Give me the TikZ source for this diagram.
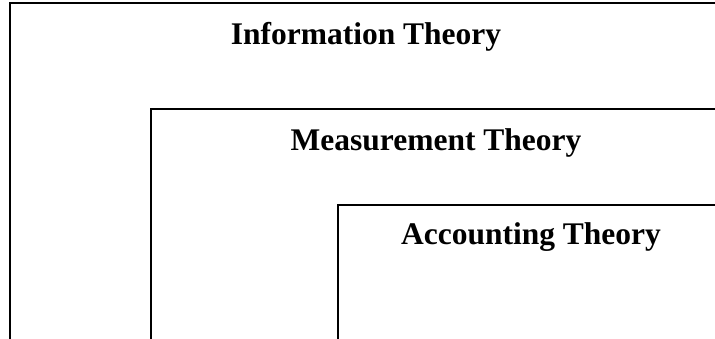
\documentclass[tikz,border=0pt]{standalone}
\usepackage{fontspec}
\setmainfont{Liberation Serif}
\begin{document}
\begin{tikzpicture}[x=1pt,y=-1pt,
  frame/.style={draw=black,line width=1.8pt},
  title/.style={font=\fontsize{31.5}{36}\selectfont\bfseries,anchor=base,inner sep=0pt}]
\useasboundingbox (0,0) rectangle (715,338);
\clip (0,0) rectangle (715,338);
\draw[frame] (10,360) |- (740,3);
\draw[frame] (151,360) |- (740,109);
\draw[frame] (338,360) |- (740,205);
\node[title] (info) at (366,44) {Information Theory};
\node[title] (meas) at (436,150) {Measurement Theory};
\node[title] (acct) at (531,244) {Accounting Theory};
\end{tikzpicture}
\end{document}
